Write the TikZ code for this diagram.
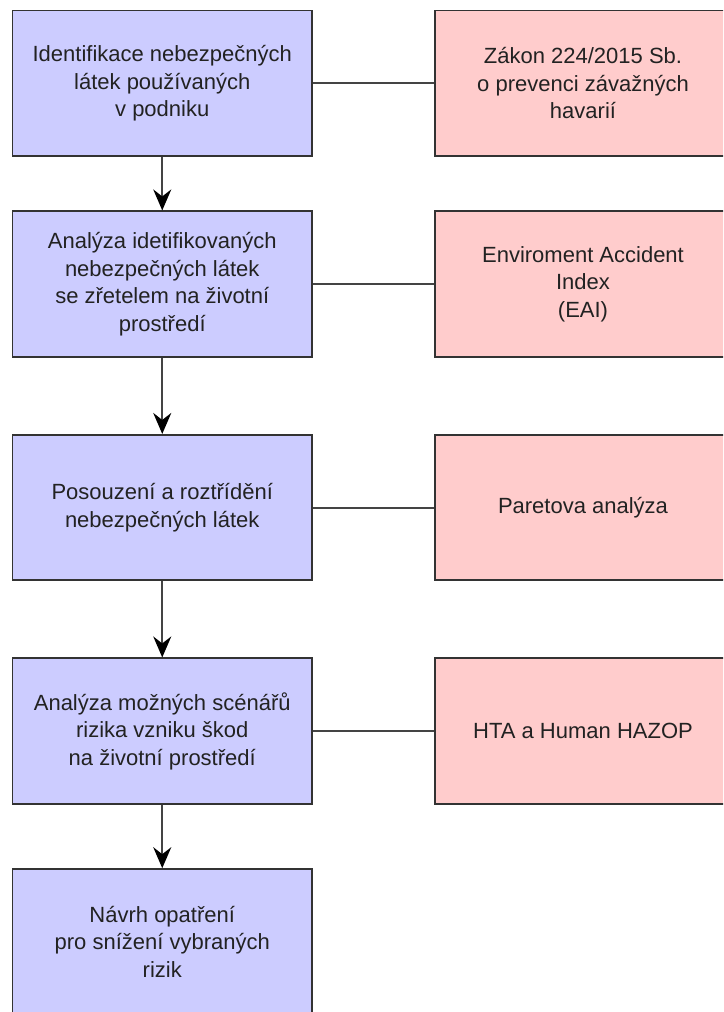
\documentclass[tikz,border=0pt]{standalone}
\usepackage{fontspec}
\setmainfont{Liberation Sans}
\usetikzlibrary{arrows.meta}
\definecolor{stepfill}{HTML}{CCCCFF}
\definecolor{methodfill}{HTML}{FFCCCC}
\definecolor{edge}{HTML}{333333}
\definecolor{wire}{HTML}{444444}
\definecolor{ink}{HTML}{222222}
\begin{document}
\begin{tikzpicture}[x=1pt,y=-1pt,
  box/.style={draw=edge, line width=1.6pt, rectangle, align=center, text=ink,
    font=\fontsize{22}{27.5}\selectfont, inner sep=0pt},
  stepbox/.style={box, fill=stepfill, minimum width=299.5pt, minimum height=145.5pt},
  methodbox/.style={box, fill=methodfill, minimum width=296pt, minimum height=145.5pt},
  flow/.style={draw=wire, line width=2pt,
    -{Stealth[length=21pt,width=18pt,inset=7pt,black]}},
  link/.style={draw=wire, line width=2pt}]
\clip (0,0) rectangle (723,1012);
\fill[white] (0,0) rectangle (723,1012);

% process steps
\node[stepbox] (s1) at (162.25,83.25) {Identifikace nebezpečných\\látek používaných\\v podniku};
\node[stepbox] (s2) at (162.25,284) {Analýza idetifikovaných\\nebezpečných látek\\se zřetelem na životní\\prostředí};
\node[stepbox] (s3) at (162.25,507.5) {Posouzení a roztřídění\\nebezpečných látek};
\node[stepbox] (s4) at (162.25,731) {Analýza možných scénářů\\rizika vzniku škod\\na životní prostředí};
\node[stepbox] (s5) at (162.25,941.75) {Návrh opatření\\pro snížení vybraných\\rizik};

% supporting methods
\node[methodbox] (m1) at (583,83.25) {Zákon 224/2015 Sb.\\o prevenci závažných\\havarií};
\node[methodbox] (m2) at (583,284) {Enviroment Accident\\Index\\(EAI)};
\node[methodbox] (m3) at (583,507.5) {Paretova analýza};
\node[methodbox] (m4) at (583,731) {HTA a Human HAZOP};

% flow between steps
\draw[flow] (s1) -- (s2);
\draw[flow] (s2) -- (s3);
\draw[flow] (s3) -- (s4);
\draw[flow] (s4) -- (s5);

% links to methods
\draw[link] (s1) -- (m1);
\draw[link] (s2) -- (m2);
\draw[link] (s3) -- (m3);
\draw[link] (s4) -- (m4);
\end{tikzpicture}
\end{document}
